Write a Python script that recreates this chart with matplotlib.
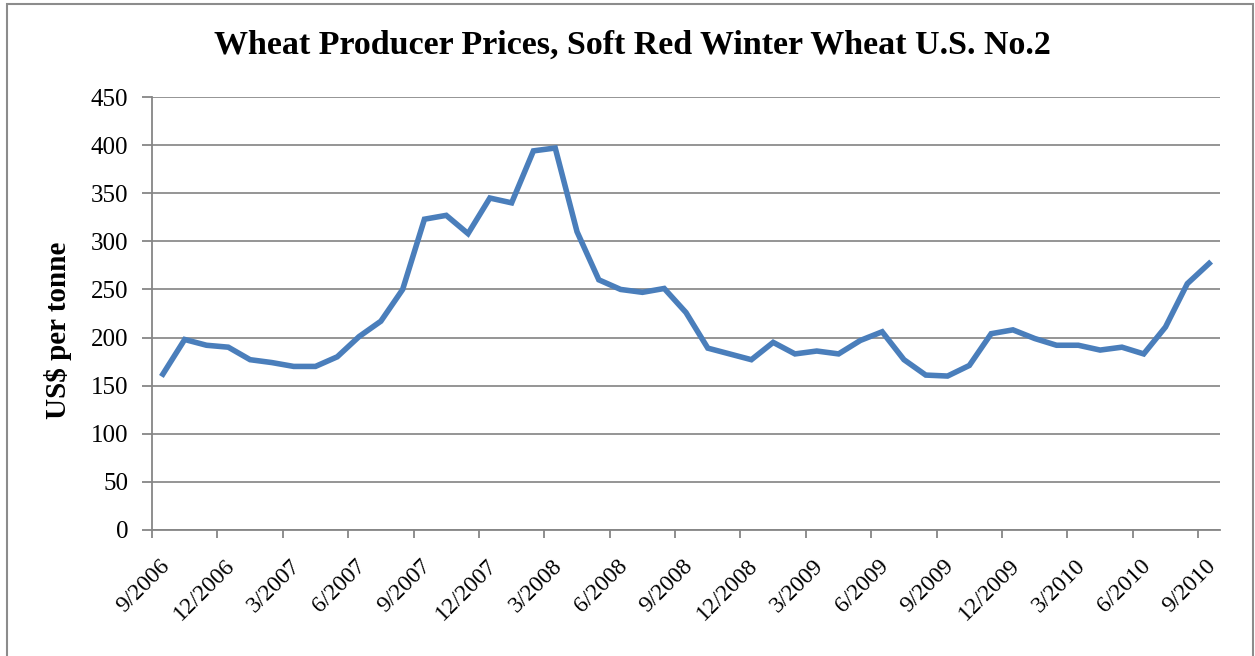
import numpy as np
import matplotlib.pyplot as plt
from matplotlib.patches import Rectangle
from matplotlib.transforms import ScaledTranslation

# monthly prices, 9/2006 .. 9/2010
prices = [162, 198, 192, 190, 177, 174, 170, 170, 180, 201, 217, 250,
          323, 327, 308, 345, 340, 394, 397, 310, 260, 250, 247, 251,
          226, 189, 183, 177, 195, 183, 186, 183, 197, 206, 177, 161,
          160, 171, 204, 208, 199, 192, 192, 187, 190, 183, 211, 256,
          277]
tick_labels = ['9/2006', '12/2006', '3/2007', '6/2007', '9/2007', '12/2007',
               '3/2008', '6/2008', '9/2008', '12/2008', '3/2009', '6/2009',
               '9/2009', '12/2009', '3/2010', '6/2010', '9/2010']
title = 'Wheat Producer Prices, Soft Red Winter Wheat U.S. No.2'
ylabel = 'US$ per tonne'

plt.rcParams['font.family'] = ['Liberation Serif', 'DejaVu Serif']

W, H = 1255, 656
fig = plt.figure(figsize=(W / 100, H / 100), dpi=100)
fig.patches.append(Rectangle((7 / W, -0.01), 1246 / W, 1 - 4 / H + 0.01,
                             transform=fig.transFigure, fill=False,
                             edgecolor='#8c8c8c', linewidth=1.5))

left, right, top, bottom = 152, 1220, 97, 530
ax = fig.add_axes([left / W, 1 - bottom / H, (right - left) / W, (bottom - top) / H])

x = np.arange(len(prices)) + 0.5
ax.plot(x, prices, color='#4a7ebb', linewidth=4.0, solid_joinstyle='miter')

ax.set_xlim(0, len(prices))
ax.set_ylim(0, 450)
ax.set_yticks(np.arange(0, 451, 50))
xt = np.arange(0, len(prices), 3)
ax.set_xticks(xt)
ax.set_xticklabels([])
# rotated date labels, nudged like the Excel original
lab_tr = ax.get_xaxis_transform() + ScaledTranslation(7 / 100, -25 / 100, fig.dpi_scale_trans)
for pos, lab in zip(xt, tick_labels):
    ax.text(pos, 0, lab, transform=lab_tr, rotation=45, ha='right', va='top',
            rotation_mode='anchor', fontsize=17)
ax.tick_params(axis='y', labelsize=18, length=7, color='#868686', width=1.3, pad=10)
ax.tick_params(axis='x', length=6, color='#868686', width=1.3, pad=8)
ax.yaxis.grid(True, color='#8c8c8c', linewidth=1.3)
ax.set_axisbelow(True)
for s in ['top', 'right']:
    ax.spines[s].set_visible(False)
for s in ['left', 'bottom']:
    ax.spines[s].set_color('#868686')
    ax.spines[s].set_linewidth(1.3)

fig.text(632 / W, 1 - 45 / H, title, ha='center', va='center',
         fontsize=24.5, fontweight='bold')
fig.text(58 / W, 1 - 330 / H, ylabel, ha='center', va='center',
         rotation=90, fontsize=21, fontweight='bold')

fig.savefig('out.png', dpi=100)
